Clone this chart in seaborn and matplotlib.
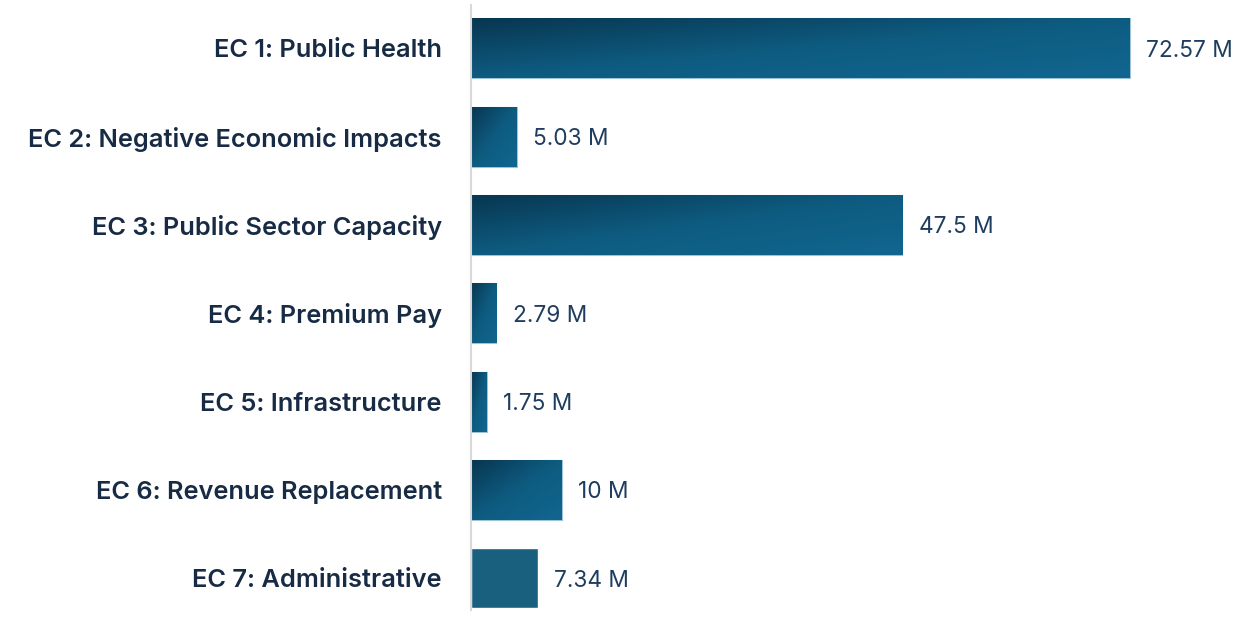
import numpy as np
import pandas as pd
import matplotlib
matplotlib.use('Agg')
import matplotlib.pyplot as plt
import seaborn as sns
from matplotlib.colors import LinearSegmentedColormap

categories = ['EC 1: Public Health', 'EC 2: Negative Economic Impacts',
              'EC 3: Public Sector Capacity', 'EC 4: Premium Pay',
              'EC 5: Infrastructure', 'EC 6: Revenue Replacement',
              'EC 7: Administrative']
values = [72.57, 5.03, 47.5, 2.79, 1.75, 10, 7.34]
value_labels = ['72.57 M', '5.03 M', '47.5 M', '2.79 M', '1.75 M', '10 M', '7.34 M']

df = pd.DataFrame({'category': categories, 'value': values})

sns.set_style('white')
plt.rcParams['font.family'] = ['Inter', 'DejaVu Sans']

fig = plt.figure(figsize=(12.45, 6.19), dpi=100)
ax = fig.add_axes([471 / 1245, 9 / 619, 1 - 471 / 1245, 605 / 619])

sns.barplot(data=df, x='value', y='category', color='#19607f', width=0.68,
            ax=ax, saturation=1)

xmax = (1245 - 471) / 9.08

# gradient fill on bars (all but the last one, which is flat)
cmap = LinearSegmentedColormap.from_list('g', ['#083650', '#0e5b80', '#116690'])
grad = np.add.outer(np.linspace(0, 1, 50), np.linspace(0, 1, 200)) / 2
for i, p in enumerate(ax.patches):
    if i == len(ax.patches) - 1:
        continue
    x0, y0 = p.get_x(), p.get_y()
    w, h = p.get_width(), p.get_height()
    im = ax.imshow(grad, cmap=cmap, aspect='auto', extent=[x0, x0 + w, y0 + h, y0],
                   origin='upper', zorder=p.get_zorder() + 0.1)
    im.set_clip_path(p)
    p.set_edgecolor('#9cc3d6')
    p.set_linewidth(0.8)

ax.set_ylim(6.36, -0.49)
ax.set_xlim(0, xmax)

for i, (v, lab) in enumerate(zip(values, value_labels)):
    ax.text(v + 1.8, i, lab, va='center_baseline', ha='left', fontsize=16.3,
            color='#1f3d5e')

ax.set_xlabel('')
ax.set_ylabel('')
ax.set_xticks([])
ax.tick_params(axis='y', length=0, pad=21)
for t in ax.get_yticklabels():
    t.set_fontsize(18.3)
    t.set_fontweight('semibold')
    t.set_color('#172b45')

for s in ['top', 'right', 'bottom']:
    ax.spines[s].set_visible(False)
ax.spines['left'].set_color('#d9d9d9')
ax.spines['left'].set_linewidth(1.5)

fig.savefig('out.png', dpi=100)
